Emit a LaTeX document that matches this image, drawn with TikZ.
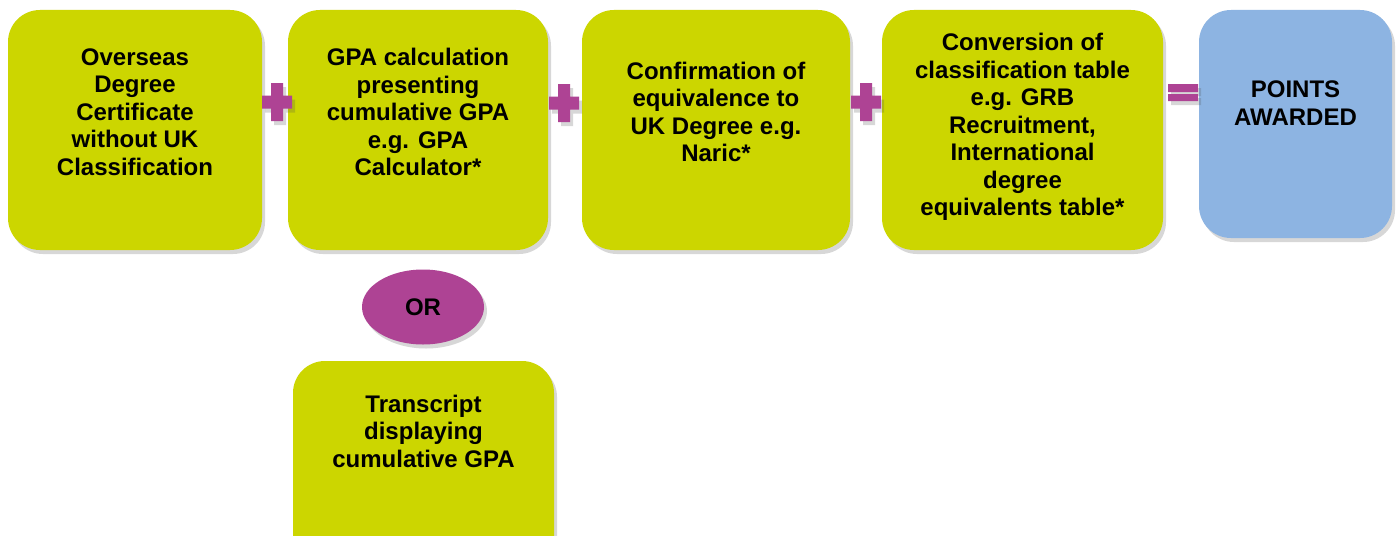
\documentclass[tikz,border=0pt]{standalone}
\usepackage{fontspec}
\setmainfont{Liberation Sans}
\usetikzlibrary{shadows,shapes.geometric}

\definecolor{lime}{RGB}{204,214,0}
\definecolor{plum}{RGB}{174,67,148}
\definecolor{sky}{RGB}{141,180,226}

\tikzset{
  soft shadow/.style={drop shadow={shadow xshift=3pt, shadow yshift=-4pt, opacity=0.22, fill=black!70}},
  box/.style={rounded corners=32pt, fill=lime, inner sep=0pt, soft shadow},
  box text/.style={font=\fontsize{24}{27.5}\selectfont\bfseries, align=center},
  sign/.style={fill=plum, soft shadow},
  plussign/.pic={\path[sign] (-15,-6.5) -- (-6,-6.5) -- (-6,-19) -- (6,-19) -- (6,-6.5)
    -- (15,-6.5) -- (15,6.5) -- (6,6.5) -- (6,19) -- (-6,19) -- (-6,6.5) -- (-15,6.5) -- cycle;}
}

\begin{document}
\begin{tikzpicture}[x=1pt, y=-1pt]
\clip (0,0) rectangle (1399,535);
\fill[white] (0,0) rectangle (1399,535);

% top row
\node[box, minimum width=254pt, minimum height=240pt] (cert) at (135,130) {};
\node[box, minimum width=260pt, minimum height=240pt] (gpa) at (418,130) {};
\node[box, minimum width=268pt, minimum height=240pt] (naric) at (716,130) {};
\node[box, minimum width=281pt, minimum height=240pt] (conv) at (1022.5,130) {};
\node[box, fill=sky, minimum width=193pt, minimum height=228pt] (points) at (1295.5,124) {};

\node[box text] (certtext) at ([yshift=18pt]cert.center) {Overseas\\Degree\\Certificate\\without UK\\Classification};
\node[box text] (gpatext) at ([yshift=18pt]gpa.center) {GPA calculation\\presenting\\cumulative GPA\\e.g. GPA\\Calculator*};
\node[box text] (naritext) at ([yshift=18pt]naric.center) {Confirmation of\\equivalence to\\UK Degree e.g.\\Naric*};
\node[box text] (convtext) at ([yshift=3pt]conv.center) {Conversion of\\classification table\\e.g. GRB\\Recruitment,\\International\\degree\\equivalents table*};
\node[box text] (pointstext) at ([yshift=21pt]points.center) {POINTS\\AWARDED};

% alternative below
\node[ellipse, fill=plum, soft shadow, minimum width=122pt, minimum height=75pt,
  font=\fontsize{24}{27.5}\selectfont\bfseries] (or) at (423,307) {OR};
\node[box, minimum width=261pt, minimum height=240pt] (trans) at (423.5,481) {};
\node[box text] (transtext) at ([yshift=50pt]trans.center) {Transcript\\displaying\\cumulative GPA};

% signs
\pic at (277,102) {plussign};
\pic at (564,103) {plussign};
\pic at (866,102) {plussign};
\path[sign] (1168,84) rectangle (1198,92) (1168,94) rectangle (1198,101);
\end{tikzpicture}
\end{document}
